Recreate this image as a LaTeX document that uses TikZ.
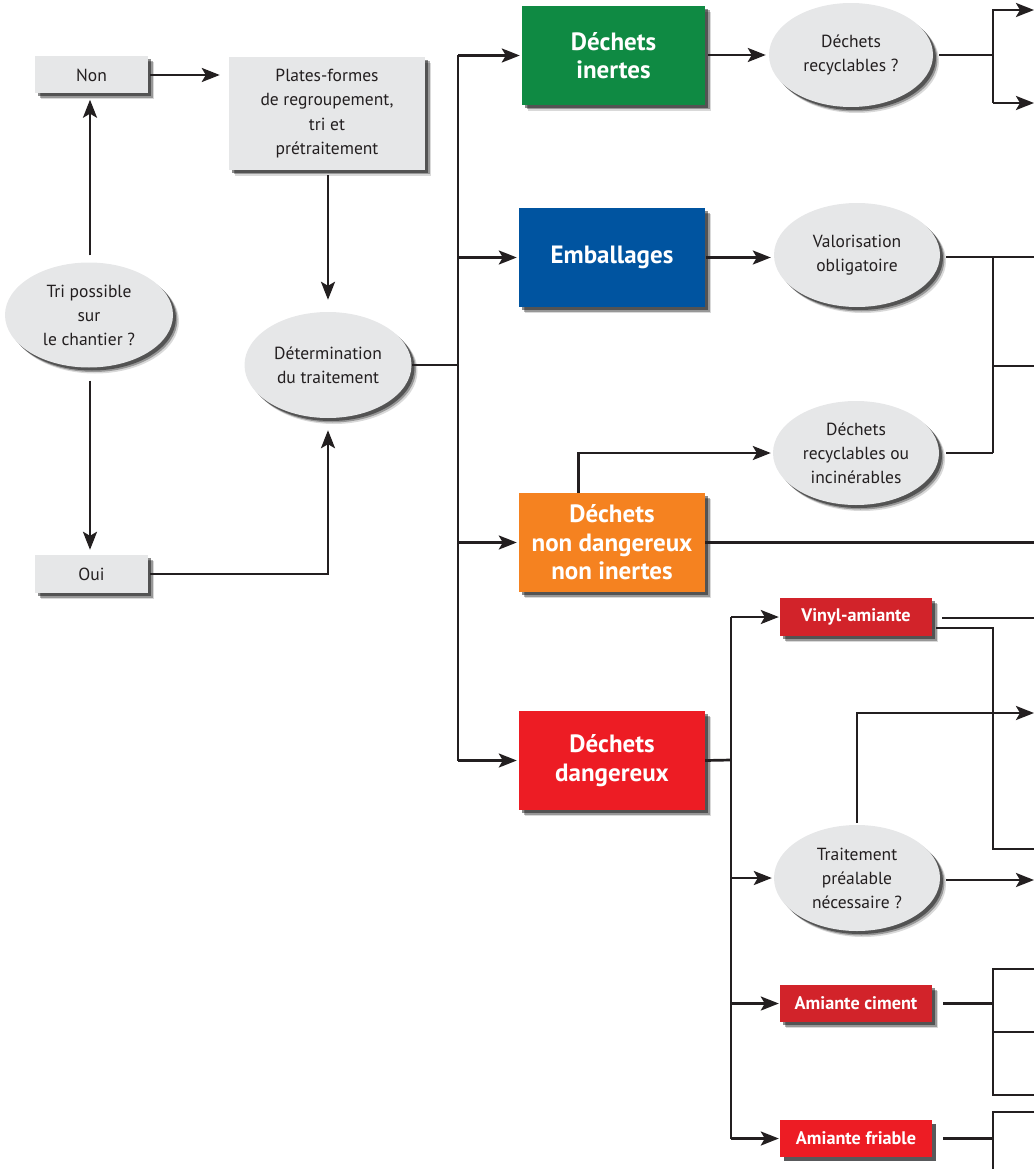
\documentclass[tikz,border=0pt]{standalone}
\usepackage{fontspec}
\setmainfont{PT Sans}
\usetikzlibrary{arrows.meta,shadows,shapes.geometric,calc}
\definecolor{boxgray}{HTML}{E6E7E8}
\definecolor{vert}{HTML}{0F8A43}
\definecolor{bleu}{HTML}{0054A0}
\definecolor{orangec}{HTML}{F58220}
\definecolor{rouge}{HTML}{ED1C24}
\definecolor{rougefonce}{HTML}{D2232A}
\definecolor{ligne}{HTML}{231F20}
\definecolor{ombre}{HTML}{58595B}
\begin{document}
\begin{tikzpicture}[x=1pt,y=-1pt,
  shad/.style={general shadow={shadow xshift=6pt,shadow yshift=-6pt,fill=black,opacity=0.15},
               general shadow={shadow xshift=4.5pt,shadow yshift=-4.5pt,fill=black,opacity=0.3},
               general shadow={shadow xshift=3pt,shadow yshift=-3pt,fill=black,opacity=0.45}},
  gbox/.style={rectangle,fill=boxgray,shad,inner sep=0pt,align=center,text=ligne,
               font=\fontsize{17.5}{24.5}\selectfont},
  gell/.style={ellipse,fill=boxgray,shad,inner sep=0pt,align=center,text=ligne,
               font=\fontsize{17.5}{24}\selectfont},
  bigbox/.style={rectangle,shad,inner sep=0pt,align=center,text=white,
               minimum width=186pt,minimum height=99pt,
               font=\bfseries\fontsize{25}{28.5}\selectfont},
  smallbox/.style={rectangle,shad,inner sep=0pt,align=center,text=white,
               minimum width=152pt,minimum height=37pt,
               font=\bfseries\fontsize{18.2}{20}\selectfont},
  ln/.style={draw=ligne,line width=2.7pt},
  arr/.style={ln,-{Stealth[length=18pt,width=14pt,inset=4pt]}},
]
\useasboundingbox (0,0) rectangle (1034,1169);
\clip (0,0) rectangle (1034,1169);

% left part
\node[gbox,minimum width=113pt,minimum height=37pt] (non) at (91.5,75) {Non};
\node[gbox,minimum width=196pt,minimum height=113pt] (plates) at (327,113.5)
  {Plates-formes\\de regroupement,\\tri et\\prétraitement};
\node[gell,minimum width=168pt,minimum height=105pt] (tri) at (89,315)
  {Tri possible\\sur\\le chantier ?};
\node[gbox,minimum width=113pt,minimum height=38pt] (oui) at (91.5,574) {Oui};
\node[gell,minimum width=167pt,minimum height=106pt] (det) at (328,365)
  {Détermination\\du traitement};

% main boxes
\node[bigbox,fill=vert,minimum width=183pt] (inertes) at (613.5,55.5) {Déchets\\inertes};
\node[bigbox,fill=bleu] (emb) at (612,257.5) {Emballages};
\node[bigbox,fill=orangec] (ndni) at (612,542.5) {Déchets\\non dangereux\\non inertes};
\node[bigbox,fill=rouge] (dang) at (612,760.5) {Déchets\\dangereux};

% ellipses right
\node[gell,minimum width=164pt,minimum height=104pt] (recyc) at (851,55) {Déchets\\recyclables ?};
\node[gell,minimum width=166pt,minimum height=104pt] (valor) at (857,255) {Valorisation\\obligatoire};
\node[gell,minimum width=166pt,minimum height=104pt] (recinc) at (856,453) {Déchets\\recyclables ou\\incinérables};
\node[gell,minimum width=166pt,minimum height=106pt] (trait) at (857,878) {Traitement\\préalable\\nécessaire ?};

% small red boxes
\node[smallbox,fill=rougefonce,minimum height=38pt] (vinyl) at (856,617) {Vinyl-amiante};
\node[smallbox,fill=rougefonce] (ciment) at (856,1003.5) {Amiante ciment};
\node[rectangle,inner sep=0pt,align=center,text=white,minimum width=152pt,minimum height=37pt,
      font=\bfseries\fontsize{18.2}{20}\selectfont,fill=rouge,
      general shadow={shadow xshift=4pt,shadow yshift=-4pt,fill=ombre,opacity=1}] (friable) at (856,1138.5) {Amiante friable};

% helper coordinates
\coordinate (edge) at (1034,0);
\coordinate (trunk) at (458,365);
\coordinate (trunkb) at (731,760);
\coordinate (split) at (993,0);
\coordinate (lx) at (90,0);

% left connectors
\draw[arr,shorten <=2pt,shorten >=9pt] (non.east) -- (plates.west |- non.east);
\draw[arr,shorten <=7pt,shorten >=6pt] (lx |- tri.north) -- (lx |- non.south);
\draw[arr,shorten <=13pt,shorten >=5pt] (lx |- tri.south) -- (lx |- oui.north);
\draw[arr,shorten <=5pt,shorten >=12pt] (plates.south -| det.north) -- (det.north);
\draw[arr,shorten <=2pt,shorten >=12pt] (oui.east) -| (det.south);
\draw[ln] (det.east) -- (trunk);

% trunk to main boxes
\draw[ln] (trunk |- inertes.west) -- (trunk |- dang.west);
\draw[arr,shorten >=2pt] (trunk |- inertes.west) -- (inertes.west);
\draw[arr,shorten >=2pt] (trunk |- emb.west) -- (emb.west);
\draw[arr,shorten >=2pt] (trunk |- ndni.west) -- (ndni.west);
\draw[arr,shorten >=2pt] (trunk |- dang.west) -- (dang.west);

% inertes
\draw[arr,shorten <=3pt,shorten >=3pt] (inertes.east |- recyc.west) -- (recyc.west);
\coordinate (r1) at (1034,10);
\coordinate (r2) at (1034,103);
\draw[ln,shorten <=6pt] (recyc.east) -- (recyc.east -| split);
\draw[arr] (split |- r2) -- (split |- r1) -- (r1);
\draw[arr] (split |- r2) -- (r2);

% emballages
\draw[arr,shorten <=1pt,shorten >=3pt] (emb.east) -- (valor.west |- emb.east);
\coordinate (r3) at (1034,366);
\draw[ln,shorten <=6pt] (valor.east) ++(0,2) -- (edge |- 0,257);
\draw[ln] (split |- 0,257) -- (split |- recinc.east);
\draw[ln] (split |- r3) -- (r3);
\draw[ln,shorten <=7pt] (recinc.east) -- (split |- recinc.east);

% non dangereux
\draw[arr,shorten >=2pt] ($(ndni.north west)+(60,0)$) |- (recinc.west);
\draw[ln] (ndni.east) -- (edge |- ndni.east);

% dangereux
\draw[ln] (dang.east) -- (trunkb);
\draw[ln] (trunkb |- vinyl.west) -- (trunkb |- friable.west);
\draw[arr,shorten >=1pt] (trunkb |- vinyl.west) -- (vinyl.west);
\draw[arr,shorten >=2pt] (trunkb |- trait.west) -- (trait.west);
\draw[arr,shorten >=1pt] (trunkb |- ciment.west) -- (ciment.west);
\draw[arr,shorten >=1pt] (trunkb |- friable.west) -- (friable.west);

% vinyl
\coordinate (va) at ($(vinyl.east)+(10,1)$);
\coordinate (vb) at ($(vinyl.east)+(4,11)$);
\coordinate (r4) at (1034,849);
\coordinate (r5) at (1034,713);
\draw[ln] (va) -- (edge |- va);
\draw[ln] (vb) -| (split |- r4) -- (r4);

% traitement
\draw[arr,shorten <=2pt] (trait.north) |- (r5);
\draw[arr,shorten <=6pt] (trait.east) ++(0,2) -- (edge |- 0,880);

% amiante ciment
\coordinate (c1) at (1034,969);
\coordinate (c2) at (1034,1032);
\coordinate (c3) at (1034,1095);
\draw[ln,shorten <=11pt] (ciment.east) -- (split |- ciment.east);
\draw[ln] (c1) -- (split |- c1) -- (split |- c3) -- (c3);
\draw[ln] (split |- c2) -- (c2);

% amiante friable
\coordinate (f1) at (1034,1112);
\coordinate (f2) at (1034,1175);
\draw[ln,shorten <=11pt] (friable.east) -- (split |- friable.east);
\draw[ln] (f1) -- (split |- f1) -- (split |- f2);
\end{tikzpicture}
\end{document}
